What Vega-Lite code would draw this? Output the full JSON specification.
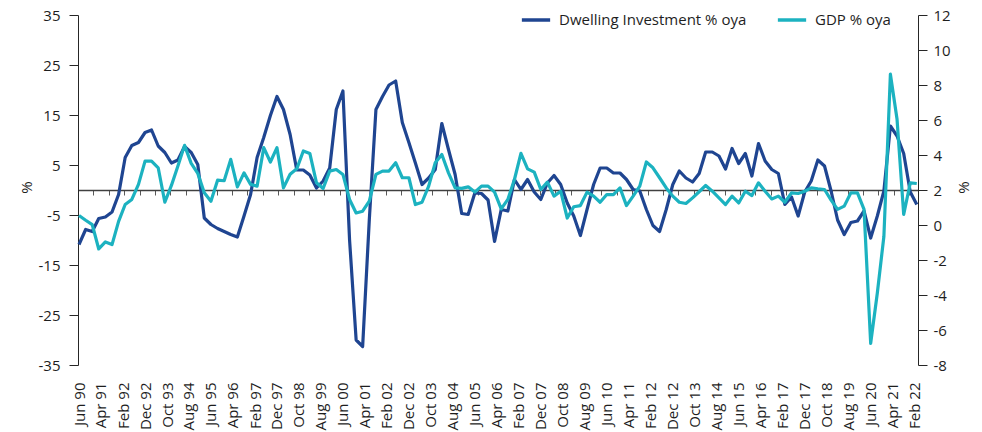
{
  "$schema": "https://vega.github.io/schema/vega-lite/v6.json",
  "width": 840,
  "height": 350,
  "autosize": {"type": "none"},
  "padding": {"left": 78, "top": 15, "right": 64, "bottom": 67},
  "background": "white",
  "config": {
    "font": "Open Sans",
    "view": {"stroke": null},
    "axis": {"labelFont": "Open Sans", "labelFontSize": 15, "labelColor": "#1e1e1e", "titleFont": "Open Sans", "titleFontSize": 15, "titleColor": "#1e1e1e", "titleFontWeight": "normal", "grid": false}
  },
  "data": {"values": [
    {"date":"1990-06-15","dwelling":-10.9,"gdp":0.54},
    {"date":"1990-09-15","dwelling":-7.9,"gdp":0.27},
    {"date":"1990-12-15","dwelling":-8.3,"gdp":0.02},
    {"date":"1991-03-15","dwelling":-5.7,"gdp":-1.37},
    {"date":"1991-06-15","dwelling":-5.4,"gdp":-0.97},
    {"date":"1991-09-15","dwelling":-4.4,"gdp":-1.12},
    {"date":"1991-12-15","dwelling":-0.9,"gdp":0.21},
    {"date":"1992-03-15","dwelling":6.5,"gdp":1.17},
    {"date":"1992-06-15","dwelling":8.9,"gdp":1.46},
    {"date":"1992-09-15","dwelling":9.5,"gdp":2.32},
    {"date":"1992-12-15","dwelling":11.5,"gdp":3.65},
    {"date":"1993-03-15","dwelling":12.0,"gdp":3.65},
    {"date":"1993-06-15","dwelling":8.8,"gdp":3.27},
    {"date":"1993-09-15","dwelling":7.5,"gdp":1.30},
    {"date":"1993-12-15","dwelling":5.4,"gdp":2.26},
    {"date":"1994-03-15","dwelling":6.0,"gdp":3.37},
    {"date":"1994-06-15","dwelling":8.7,"gdp":4.55},
    {"date":"1994-09-15","dwelling":7.5,"gdp":3.52},
    {"date":"1994-12-15","dwelling":5.1,"gdp":2.95},
    {"date":"1995-03-15","dwelling":-5.6,"gdp":1.84},
    {"date":"1995-06-15","dwelling":-6.9,"gdp":1.36},
    {"date":"1995-09-15","dwelling":-7.7,"gdp":2.56},
    {"date":"1995-12-15","dwelling":-8.3,"gdp":2.53},
    {"date":"1996-03-15","dwelling":-8.9,"gdp":3.75},
    {"date":"1996-06-15","dwelling":-9.4,"gdp":2.18},
    {"date":"1996-09-15","dwelling":-5.2,"gdp":2.98},
    {"date":"1996-12-15","dwelling":-0.9,"gdp":2.32},
    {"date":"1997-03-15","dwelling":6.5,"gdp":2.22},
    {"date":"1997-06-15","dwelling":10.5,"gdp":4.42},
    {"date":"1997-09-15","dwelling":14.9,"gdp":3.60},
    {"date":"1997-12-15","dwelling":18.7,"gdp":4.42},
    {"date":"1998-03-15","dwelling":16.1,"gdp":2.12},
    {"date":"1998-06-15","dwelling":11.1,"gdp":2.9},
    {"date":"1998-09-15","dwelling":4.0,"gdp":3.21},
    {"date":"1998-12-15","dwelling":4.0,"gdp":4.23},
    {"date":"1999-03-15","dwelling":3.0,"gdp":4.09},
    {"date":"1999-06-15","dwelling":0.4,"gdp":2.41},
    {"date":"1999-09-15","dwelling":1.8,"gdp":2.09},
    {"date":"1999-12-15","dwelling":4.4,"gdp":3.08},
    {"date":"2000-03-15","dwelling":16.1,"gdp":3.17},
    {"date":"2000-06-15","dwelling":19.8,"gdp":2.89},
    {"date":"2000-09-15","dwelling":-10.0,"gdp":1.46},
    {"date":"2000-12-15","dwelling":-30.0,"gdp":0.69},
    {"date":"2001-03-15","dwelling":-31.3,"gdp":0.79},
    {"date":"2001-06-15","dwelling":-6.0,"gdp":1.36},
    {"date":"2001-09-15","dwelling":16.1,"gdp":2.89},
    {"date":"2001-12-15","dwelling":18.7,"gdp":3.08},
    {"date":"2002-03-15","dwelling":21.0,"gdp":3.08},
    {"date":"2002-06-15","dwelling":21.8,"gdp":3.56},
    {"date":"2002-09-15","dwelling":13.5,"gdp":2.70},
    {"date":"2002-12-15","dwelling":9.5,"gdp":2.70},
    {"date":"2003-03-15","dwelling":5.4,"gdp":1.17},
    {"date":"2003-06-15","dwelling":1.1,"gdp":1.30},
    {"date":"2003-09-15","dwelling":2.4,"gdp":2.22},
    {"date":"2003-12-15","dwelling":4.1,"gdp":3.56},
    {"date":"2004-03-15","dwelling":13.3,"gdp":4.03},
    {"date":"2004-06-15","dwelling":8.1,"gdp":2.98},
    {"date":"2004-09-15","dwelling":3.1,"gdp":2.12},
    {"date":"2004-12-15","dwelling":-4.7,"gdp":2.09},
    {"date":"2005-03-15","dwelling":-4.9,"gdp":2.18},
    {"date":"2005-06-15","dwelling":-0.6,"gdp":1.88},
    {"date":"2005-09-15","dwelling":-0.7,"gdp":2.22},
    {"date":"2005-12-15","dwelling":-2.0,"gdp":2.22},
    {"date":"2006-03-15","dwelling":-10.3,"gdp":1.88},
    {"date":"2006-06-15","dwelling":-3.9,"gdp":0.92},
    {"date":"2006-09-15","dwelling":-4.2,"gdp":1.46},
    {"date":"2006-12-15","dwelling":2.1,"gdp":2.60},
    {"date":"2007-03-15","dwelling":0.1,"gdp":4.09},
    {"date":"2007-06-15","dwelling":2.1,"gdp":3.21},
    {"date":"2007-09-15","dwelling":-0.4,"gdp":3.02},
    {"date":"2007-12-15","dwelling":-1.9,"gdp":2.03},
    {"date":"2008-03-15","dwelling":1.4,"gdp":2.45},
    {"date":"2008-06-15","dwelling":2.9,"gdp":1.65},
    {"date":"2008-09-15","dwelling":1.1,"gdp":1.93},
    {"date":"2008-12-15","dwelling":-2.6,"gdp":0.40},
    {"date":"2009-03-15","dwelling":-5.2,"gdp":1.04},
    {"date":"2009-06-15","dwelling":-9.1,"gdp":1.11},
    {"date":"2009-09-15","dwelling":-3.9,"gdp":1.88},
    {"date":"2009-12-15","dwelling":1.1,"gdp":1.65},
    {"date":"2010-03-15","dwelling":4.4,"gdp":1.30},
    {"date":"2010-06-15","dwelling":4.4,"gdp":1.74},
    {"date":"2010-09-15","dwelling":3.4,"gdp":1.74},
    {"date":"2010-12-15","dwelling":3.4,"gdp":2.12},
    {"date":"2011-03-15","dwelling":2.1,"gdp":1.11},
    {"date":"2011-06-15","dwelling":0.1,"gdp":1.65},
    {"date":"2011-09-15","dwelling":-0.2,"gdp":2.22},
    {"date":"2011-12-15","dwelling":-3.9,"gdp":3.60},
    {"date":"2012-03-15","dwelling":-7.1,"gdp":3.27},
    {"date":"2012-06-15","dwelling":-8.3,"gdp":2.70},
    {"date":"2012-09-15","dwelling":-3.9,"gdp":2.12},
    {"date":"2012-12-15","dwelling":1.1,"gdp":1.65},
    {"date":"2013-03-15","dwelling":3.8,"gdp":1.30},
    {"date":"2013-06-15","dwelling":2.4,"gdp":1.23},
    {"date":"2013-09-15","dwelling":1.6,"gdp":1.55},
    {"date":"2013-12-15","dwelling":3.3,"gdp":1.9},
    {"date":"2014-03-15","dwelling":7.6,"gdp":2.26},
    {"date":"2014-06-15","dwelling":7.6,"gdp":1.93},
    {"date":"2014-09-15","dwelling":6.8,"gdp":1.55},
    {"date":"2014-12-15","dwelling":4.2,"gdp":1.17},
    {"date":"2015-03-15","dwelling":8.3,"gdp":1.65},
    {"date":"2015-06-15","dwelling":5.3,"gdp":1.26},
    {"date":"2015-09-15","dwelling":7.3,"gdp":1.93},
    {"date":"2015-12-15","dwelling":2.8,"gdp":1.68},
    {"date":"2016-03-15","dwelling":9.3,"gdp":2.41},
    {"date":"2016-06-15","dwelling":5.8,"gdp":1.93},
    {"date":"2016-09-15","dwelling":4.1,"gdp":1.49},
    {"date":"2016-12-15","dwelling":3.3,"gdp":1.65},
    {"date":"2017-03-15","dwelling":-2.9,"gdp":1.30},
    {"date":"2017-06-15","dwelling":-1.4,"gdp":1.84},
    {"date":"2017-09-15","dwelling":-5.2,"gdp":1.80},
    {"date":"2017-12-15","dwelling":-0.4,"gdp":1.93},
    {"date":"2018-03-15","dwelling":1.8,"gdp":2.12},
    {"date":"2018-06-15","dwelling":6.0,"gdp":2.07},
    {"date":"2018-09-15","dwelling":4.8,"gdp":2.03},
    {"date":"2018-12-15","dwelling":-0.2,"gdp":1.42},
    {"date":"2019-03-15","dwelling":-6.0,"gdp":0.89},
    {"date":"2019-06-15","dwelling":-8.9,"gdp":1.08},
    {"date":"2019-09-15","dwelling":-6.5,"gdp":1.84},
    {"date":"2019-12-15","dwelling":-6.2,"gdp":1.84},
    {"date":"2020-03-15","dwelling":-4.2,"gdp":0.89},
    {"date":"2020-06-15","dwelling":-9.6,"gdp":-6.76},
    {"date":"2020-09-15","dwelling":-5.2,"gdp":-3.89},
    {"date":"2020-12-15","dwelling":-0.2,"gdp":-0.64},
    {"date":"2021-03-15","dwelling":12.8,"gdp":8.62},
    {"date":"2021-06-15","dwelling":10.8,"gdp":6.04},
    {"date":"2021-09-15","dwelling":7.3,"gdp":0.60},
    {"date":"2021-12-15","dwelling":-0.4,"gdp":2.41},
    {"date":"2022-03-15","dwelling":-2.9,"gdp":2.37}
  ]},
  "layer": [
    {
      "mark": {"type": "line", "strokeWidth": 3.2, "strokeJoin": "round", "color": "#1f4591"},
      "encoding": {
        "x": {
          "field": "date", "type": "temporal",
          "scale": {"domain": [{"year":1990,"month":6,"date":1},{"year":2022,"month":4,"date":1}]},
          "axis": {
            "orient": "bottom", "format": "%b %y", "labelAngle": -90, "labelPadding": 17,
            "domain": false, "ticks": false, "grid": false, "title": null,
            "labelOverlap": false, "labelFlush": false, "labelBound": false,
            "values": [
              {"year":1990,"month":6,"date":15},{"year":1991,"month":4,"date":15},{"year":1992,"month":2,"date":15},
              {"year":1992,"month":12,"date":15},{"year":1993,"month":10,"date":15},{"year":1994,"month":8,"date":15},
              {"year":1995,"month":6,"date":15},{"year":1996,"month":4,"date":15},{"year":1997,"month":2,"date":15},
              {"year":1997,"month":12,"date":15},{"year":1998,"month":10,"date":15},{"year":1999,"month":8,"date":15},
              {"year":2000,"month":6,"date":15},{"year":2001,"month":4,"date":15},{"year":2002,"month":2,"date":15},
              {"year":2002,"month":12,"date":15},{"year":2003,"month":10,"date":15},{"year":2004,"month":8,"date":15},
              {"year":2005,"month":6,"date":15},{"year":2006,"month":4,"date":15},{"year":2007,"month":2,"date":15},
              {"year":2007,"month":12,"date":15},{"year":2008,"month":10,"date":15},{"year":2009,"month":8,"date":15},
              {"year":2010,"month":6,"date":15},{"year":2011,"month":4,"date":15},{"year":2012,"month":2,"date":15},
              {"year":2012,"month":12,"date":15},{"year":2013,"month":10,"date":15},{"year":2014,"month":8,"date":15},
              {"year":2015,"month":6,"date":15},{"year":2016,"month":4,"date":15},{"year":2017,"month":2,"date":15},
              {"year":2017,"month":12,"date":15},{"year":2018,"month":10,"date":15},{"year":2019,"month":8,"date":15},
              {"year":2020,"month":6,"date":15},{"year":2021,"month":4,"date":15},{"year":2022,"month":2,"date":15}
            ]
          }
        },
        "y": {
          "field": "dwelling", "type": "quantitative",
          "scale": {"domain": [-35, 35], "nice": false, "zero": false},
          "axis": {
            "orient": "left", "values": [-35,-25,-15,-5,5,15,25,35],
            "labelExpr": "(datum.value < 0 ? '-' : '') + abs(datum.value)",
            "domainColor": "#262626", "tickColor": "#262626", "tickSize": 9, "labelPadding": 9,
            "title": "%", "titleAngle": -90, "titleX": -52, "titleY": 172, "titleAlign": "center", "titleBaseline": "middle"
          }
        },
        "color": {
          "datum": "Dwelling Investment % oya", "type": "nominal",
          "scale": {"domain": ["Dwelling Investment % oya", "GDP % oya"], "range": ["#1f4591", "#1cb2c0"]},
          "legend": {
            "orient": "none", "legendX": 442, "legendY": -11, "direction": "horizontal", "title": null,
            "symbolType": "stroke", "symbolStrokeWidth": 3.5, "symbolSize": 800,
            "labelFont": "Open Sans", "labelFontSize": 15, "labelColor": "#1e1e1e", "labelOffset": 7, "labelLimit": 400,
            "columnPadding": 23, "padding": 0
          }
        }
      }
    },
    {
      "mark": {"type": "line", "strokeWidth": 3.2, "strokeJoin": "round", "color": "#1cb2c0"},
      "encoding": {
        "x": {
          "field": "date", "type": "temporal",
          "axis": {
            "orient": "bottom", "offset": -175, "labels": false, "domain": true, "domainColor": "#404040", "domainWidth": 1.3,
            "ticks": true, "tickColor": "#595959", "tickSize": 5, "tickWidth": 1, "grid": false, "title": null,
            "values": [
              {"year":1991,"month":1,"date":1},{"year":1991,"month":8,"date":1},{"year":1992,"month":3,"date":1},
              {"year":1992,"month":10,"date":1},{"year":1993,"month":5,"date":1},{"year":1993,"month":12,"date":1},
              {"year":1994,"month":7,"date":1},{"year":1995,"month":2,"date":1},{"year":1995,"month":9,"date":1},
              {"year":1996,"month":4,"date":1},{"year":1996,"month":11,"date":1},{"year":1997,"month":6,"date":1},
              {"year":1998,"month":1,"date":1},{"year":1998,"month":8,"date":1},{"year":1999,"month":3,"date":1},
              {"year":1999,"month":10,"date":1},{"year":2000,"month":5,"date":1},{"year":2000,"month":12,"date":1},
              {"year":2001,"month":7,"date":1},{"year":2002,"month":2,"date":1},{"year":2002,"month":9,"date":1},
              {"year":2003,"month":4,"date":1},{"year":2003,"month":11,"date":1},{"year":2004,"month":6,"date":1},
              {"year":2005,"month":1,"date":1},{"year":2005,"month":8,"date":1},{"year":2006,"month":3,"date":1},
              {"year":2006,"month":10,"date":1},{"year":2007,"month":5,"date":1},{"year":2007,"month":12,"date":1},
              {"year":2008,"month":7,"date":1},{"year":2009,"month":2,"date":1},{"year":2009,"month":9,"date":1},
              {"year":2010,"month":4,"date":1},{"year":2010,"month":11,"date":1},{"year":2011,"month":6,"date":1},
              {"year":2012,"month":1,"date":1},{"year":2012,"month":8,"date":1},{"year":2013,"month":3,"date":1},
              {"year":2013,"month":10,"date":1},{"year":2014,"month":5,"date":1},{"year":2014,"month":12,"date":1},
              {"year":2015,"month":7,"date":1},{"year":2016,"month":2,"date":1},{"year":2016,"month":9,"date":1},
              {"year":2017,"month":4,"date":1},{"year":2017,"month":11,"date":1},{"year":2018,"month":6,"date":1},
              {"year":2019,"month":1,"date":1},{"year":2019,"month":8,"date":1},{"year":2020,"month":3,"date":1},
              {"year":2020,"month":10,"date":1},{"year":2021,"month":5,"date":1},{"year":2021,"month":12,"date":1}
            ]
          }
        },
        "y": {
          "field": "gdp", "type": "quantitative",
          "scale": {"domain": [-8, 12], "nice": false, "zero": false},
          "axis": {
            "orient": "right", "values": [-8,-6,-4,-2,0,2,4,6,8,10,12],
            "labelExpr": "(datum.value < 0 ? '-' : '') + abs(datum.value)",
            "domainColor": "#262626", "tickColor": "#262626", "tickSize": 9, "labelPadding": 6,
            "title": "%", "titleAngle": -90, "titleX": 45, "titleY": 172, "titleAlign": "center", "titleBaseline": "middle"
          }
        },
        "color": {"datum": "GDP % oya", "type": "nominal"}
      }
    }
  ],
  "resolve": {"scale": {"y": "independent"}, "axis": {"x": "independent", "y": "independent"}}
}
